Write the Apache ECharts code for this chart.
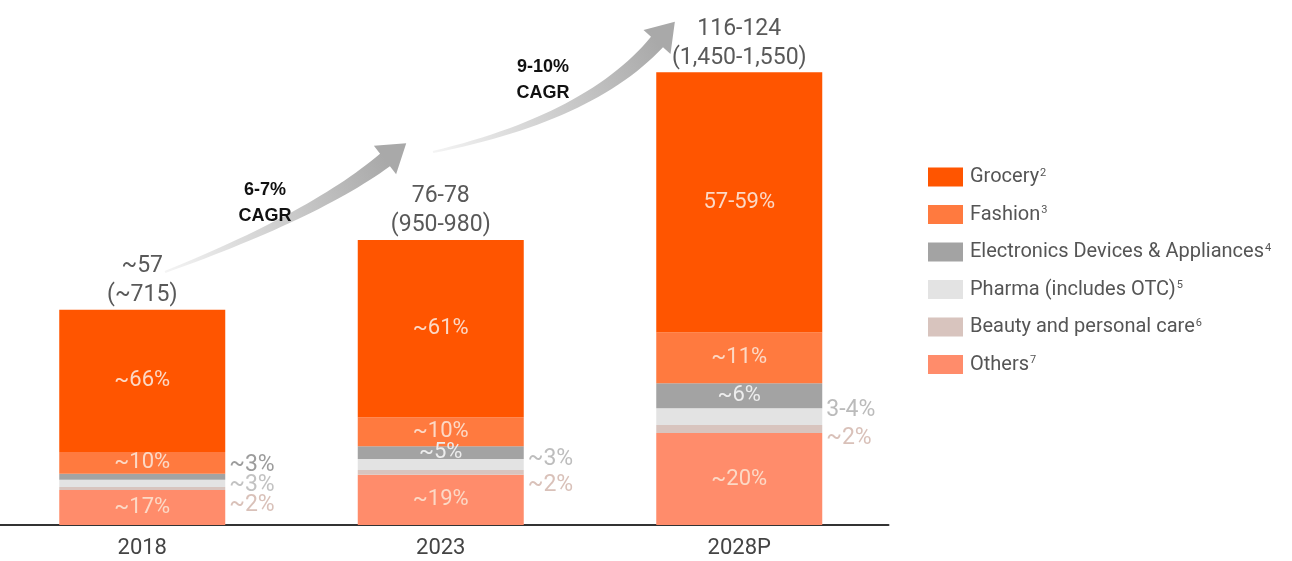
<!DOCTYPE html>
<html>
<head>
<meta charset="utf-8">
<script src="https://cdn.jsdelivr.net/npm/echarts@6/dist/echarts.min.js"></script>
<style>
html,body{margin:0;padding:0;background:#fff;}
#c{width:1292px;height:561px;}
</style>
</head>
<body>
<div id="c"></div>
<script>
// ---- data (US$ B) ----
const years = ['2018', '2023', '2028P'];
const grocery = [37.7, 47.0, 69.0];
const fashion = [5.8, 7.7, 13.5];
const electronics = [1.6, 3.4, 6.6];
const pharma = [1.9, 2.9, 4.5];
const beauty = [0.8, 1.3, 2.1];
const others = [9.3, 13.3, 24.4];

const groceryLabels = ['~66%', '~61%', '57-59%'];
const fashionLabels = ['~10%', '~10%', '~11%'];
const electronicsLabels = ['~3%', '~5%', '~6%'];
const pharmaLabels = ['~3%', '~3%', '3-4%'];
const beautyLabels = ['~2%', '~2%', '~2%'];
const othersLabels = ['~17%', '~19%', '~20%'];

const totalLabels = ['~57', '76-78', '116-124'];
const totalLabelsINR = ['(~715)', '(950-980)', '(1,450-1,550)'];
const cagrLabels = [['6-7%', 'CAGR'], ['9-10%', 'CAGR']];

// ---- styles ----
const FONT = 'Roboto, "Noto Sans", sans-serif';
const colors = {
  Grocery: '#FF5500',
  Fashion: '#FF7A3F',
  Electronics: '#A3A3A3',
  Pharma: '#E3E3E3',
  Beauty: '#D8C4BE',
  Others: '#FF8C6B'
};
const insideColor = '#FCD9C6';

function items(vals, labels, specs) {
  return vals.map((v, i) => {
    const s = specs[i];
    return {
      value: v,
      label: {
        show: true,
        formatter: labels[i],
        position: s.pos,
        distance: 4,
        offset: s.off || [0, 0],
        color: s.color,
        fontSize: s.size || 22,
        fontFamily: FONT
      }
    };
  });
}
const ins = c => ({pos: 'inside', color: c || insideColor});

const chart = echarts.init(document.getElementById('c'), null, {renderer: 'canvas'});

function arrowPoints(p0, p1, p2, w0, w1, headHalf, headLen) {
  const n = 30, left = [], right = [];
  for (let k = 0; k <= n; k++) {
    const t = k / n;
    const x = (1-t)*(1-t)*p0[0] + 2*(1-t)*t*p1[0] + t*t*p2[0];
    const y = (1-t)*(1-t)*p0[1] + 2*(1-t)*t*p1[1] + t*t*p2[1];
    const dx = 2*(1-t)*(p1[0]-p0[0]) + 2*t*(p2[0]-p1[0]);
    const dy = 2*(1-t)*(p1[1]-p0[1]) + 2*t*(p2[1]-p1[1]);
    const L = Math.hypot(dx, dy);
    const nx = -dy / L, ny = dx / L;
    const w = (w0 + (w1 - w0) * t) / 2;
    left.push([x + nx*w, y + ny*w]);
    right.push([x - nx*w, y - ny*w]);
  }
  const dx = p2[0]-p1[0], dy = p2[1]-p1[1], L = Math.hypot(dx, dy);
  const ux = dx/L, uy = dy/L, nx = -uy, ny = ux;
  const head = [
    [p2[0] + nx*headHalf, p2[1] + ny*headHalf],
    [p2[0] + ux*headLen, p2[1] + uy*headLen],
    [p2[0] - nx*headHalf, p2[1] - ny*headHalf]
  ];
  return left.concat(head).concat(right.reverse());
}
function arrow(p0, p1, p2) {
  return {
    type: 'polygon',
    silent: true,
    z: 1,
    shape: {points: arrowPoints(p0, p1, p2, 2, 16, 18, 27)},
    style: {
      fill: {
        type: 'linear', global: true,
        x: p0[0], y: p0[1], x2: p2[0], y2: p2[1],
        colorStops: [{offset: 0, color: '#F4F4F4'}, {offset: 1, color: '#A9A9A9'}]
      }
    }
  };
}
function cagrText(lines, x, y) {
  return {
    type: 'text', silent: true, z: 5, x: x, y: y,
    style: {
      text: lines.join('\n'),
      fill: '#111',
      font: 'bold 18px "Liberation Sans", Arial, sans-serif',
      align: 'center', verticalAlign: 'middle', lineHeight: 26
    }
  };
}

const legendNames = ['Grocery', 'Fashion', 'Electronics', 'Pharma', 'Beauty', 'Others'];
const legendText = {
  Grocery: ['Grocery', '2'],
  Fashion: ['Fashion', '3'],
  Electronics: ['Electronics Devices & Appliances', '4'],
  Pharma: ['Pharma (includes OTC)', '5'],
  Beauty: ['Beauty and personal care', '6'],
  Others: ['Others', '7']
};

const option = {
  animation: false,
  backgroundColor: '#ffffff',
  grid: {left: -7, right: 403.5, top: 35, bottom: 36, outerBoundsMode: 'none', containLabel: false},
  legend: {
    data: legendNames,
    orient: 'vertical',
    left: 923, top: 162,
    itemWidth: 35, itemHeight: 19, itemGap: 17,
    icon: 'rect',
    selectedMode: false,
    formatter: n => '{n|' + legendText[n][0] + '}{s|' + legendText[n][1] + '}',
    textStyle: {
      color: '#555', fontFamily: FONT, fontSize: 20, padding: [0, 0, 0, 2],
      rich: {
        n: {fontSize: 20, color: '#555', fontFamily: FONT, lineHeight: 19},
        s: {fontSize: 11, color: '#555', fontFamily: FONT, verticalAlign: 'top', lineHeight: 19, padding: [0, 0, 9, 1]}
      }
    }
  },
  xAxis: {
    type: 'category', data: years,
    axisLine: {show: true, lineStyle: {color: '#333', width: 2}},
    axisTick: {show: false},
    axisLabel: {color: '#444', fontSize: 22, fontFamily: FONT, margin: 12}
  },
  yAxis: {type: 'value', min: 0, max: 130, show: false, splitLine: {show: false}},
  series: [
    {name: 'Others', type: 'bar', stack: 't', barWidth: 166, itemStyle: {color: colors.Others},
      data: items(others, othersLabels, [ins(), ins(), ins()])},
    {name: 'Beauty', type: 'bar', stack: 't', itemStyle: {color: colors.Beauty},
      data: items(beauty, beautyLabels, [
        {pos: 'right', off: [0, 17], color: '#D9C1B9', size: 23},
        {pos: 'right', off: [0, 13], color: '#D9C1B9', size: 23},
        {pos: 'right', off: [0, 9], color: '#D9C1B9', size: 23}])},
    {name: 'Pharma', type: 'bar', stack: 't', itemStyle: {color: colors.Pharma},
      data: items(pharma, pharmaLabels, [
        {pos: 'right', off: [0, 2], color: '#C2C2C2', size: 23},
        {pos: 'right', off: [0, -5], color: '#BDBDBD', size: 23},
        {pos: 'right', off: [0, -6], color: '#BBBBBB', size: 23}])},
    {name: 'Electronics', type: 'bar', stack: 't', itemStyle: {color: colors.Electronics},
      data: items(electronics, electronicsLabels, [
        {pos: 'right', off: [0, -12], color: '#9C9C9C', size: 23},
        ins('#EDEDED'), ins('#EDEDED')])},
    {name: 'Fashion', type: 'bar', stack: 't', itemStyle: {color: colors.Fashion},
      data: items(fashion, fashionLabels, [ins(), ins(), ins()])},
    {name: 'Grocery', type: 'bar', stack: 't', itemStyle: {color: colors.Grocery},
      data: items(grocery, groceryLabels, [ins(), ins(), ins()])},
    {name: 'Total', type: 'bar', stack: 't', itemStyle: {color: 'transparent'},
      data: years.map(() => 0),
      label: {
        show: true, position: 'top', distance: 0,
        formatter: p => totalLabels[p.dataIndex] + '\n' + totalLabelsINR[p.dataIndex],
        color: '#595959', fontSize: 23, lineHeight: 29, fontFamily: FONT
      }}
  ],
  graphic: [
    arrow([165, 272], [315, 215], [385, 160]),
    arrow([433, 152], [590, 118], [657, 42]),
    cagrText(cagrLabels[0], 265, 203),
    cagrText(cagrLabels[1], 543, 80)
  ]
};
chart.setOption(option);
</script>
</body>
</html>
